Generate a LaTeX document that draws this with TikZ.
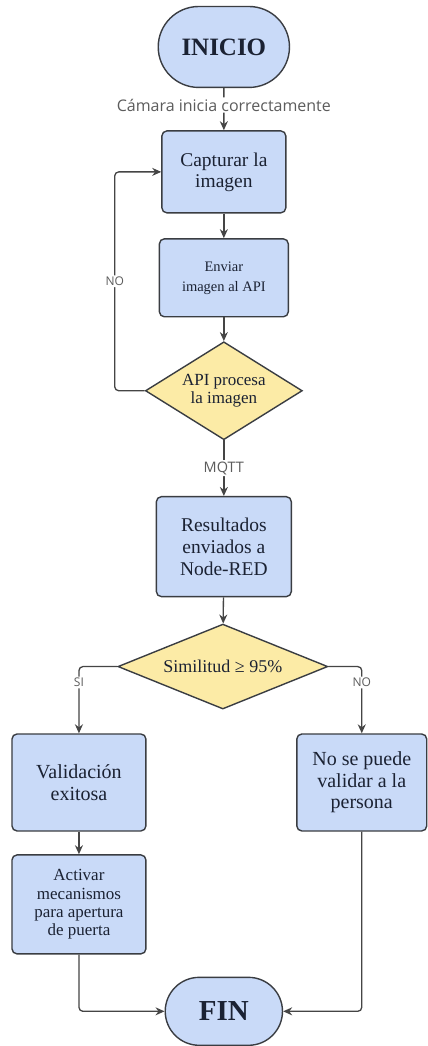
\documentclass[tikz,border=0pt]{standalone}
\usepackage{fontspec}
\setmainfont{Liberation Serif}
\newfontfamily\etiqfont{Open Sans}
\usetikzlibrary{shapes.geometric,shapes.misc,arrows.meta}

\definecolor{azul}{HTML}{C9DAF8}
\definecolor{amarillo}{HTML}{FCEBA6}
\definecolor{borde}{HTML}{3A3D42}
\definecolor{tinta}{HTML}{1B2233}
\definecolor{linea}{HTML}{454545}
\definecolor{gris}{HTML}{5C5C5C}

% tamano de letra y de interlinea en pt
\newcommand{\tam}[2]{\fontsize{#1}{#2}\selectfont}

\tikzset{
  caja/.style={draw=borde, fill=azul, rounded corners=5pt, line width=1.4pt,
    align=center, text=tinta, inner sep=1pt},
  decision/.style={diamond, draw=borde, fill=amarillo, line width=1.4pt,
    align=center, text=tinta, inner sep=0pt},
  terminal/.style={rounded rectangle, draw=borde, fill=azul, line width=1.4pt,
    text=tinta},
  flecha/.style={draw=linea, line width=1.3pt, rounded corners=4pt,
    -{Stealth[length=9pt,width=8pt]}},
  etq/.style={font=\etiqfont\tam{12}{14}, text=gris, fill=white, inner sep=1.5pt}
}

\begin{document}
\begin{tikzpicture}[x=1pt, y=-1pt]
  \path[fill=white] (0,0) rectangle (427,1046);

  % bloques del diagrama
  \node[terminal, minimum width=138, minimum height=81, font=\tam{25}{28}\bfseries] (inicio) at (224,47) {INICIO};
  \node[caja, minimum width=124, minimum height=82, font=\tam{19.5}{21}] (captura) at (224,172) {Capturar la\\imagen};
  \node[caja, minimum width=129, minimum height=78, font=\tam{14.5}{20}] (enviar) at (224,278) {Enviar\\imagen al API};
  \node[decision, minimum width=157, minimum height=98, aspect=1.6, font=\tam{17}{18}] (api) at (224,391) {API procesa\\la imagen};
  \node[caja, minimum width=135, minimum height=100, font=\tam{19.5}{22}] (resultados) at (224,547) {Resultados\\enviados a\\Node-RED};
  \node[decision, minimum width=210, minimum height=85, aspect=2.47, font=\tam{18}{20}] (similitud) at (223,667) {Similitud ≥ 95\%};
  \node[caja, minimum width=134, minimum height=97, font=\tam{20}{22}] (valida) at (79,783) {Validación\\exitosa};
  \node[caja, minimum width=134, minimum height=99, font=\tam{17}{18.3}] (activar) at (79,905) {Activar\\mecanismos\\para apertura\\de puerta};
  \node[caja, minimum width=130, minimum height=97, font=\tam{20}{21.7}] (novalida) at (362,783) {No se puede\\validar a la\\persona};
  \node[terminal, minimum width=124, minimum height=68, font=\tam{29}{30}\bfseries] (fin) at (224,1012) {FIN};

  % conexiones
  \draw[flecha] (inicio) -- node[etq, pos=0.4, font=\etiqfont\tam{16}{18}] {Cámara inicia correctamente} (captura);
  \draw[flecha] (captura) -- (enviar);
  \draw[flecha] (enviar) -- (api);
  \draw[flecha] (api.west) -- ++(-30,0) |- node[etq, pos=0.25] {NO} (captura.west);
  \draw[flecha] (api) -- node[etq, font=\etiqfont\tam{14.5}{16}] {MQTT} (resultados);
  \draw[flecha] (resultados) -- (similitud);
  \draw[flecha] (similitud.west) -| node[etq, pos=0.62] {SI} (valida);
  \draw[flecha] (similitud.east) -| node[etq, pos=0.62] {NO} (novalida);
  \draw[flecha] (valida) -- (activar);
  \draw[flecha] (activar) |- (fin);
  \draw[flecha] (novalida) |- (fin);
\end{tikzpicture}
\end{document}
